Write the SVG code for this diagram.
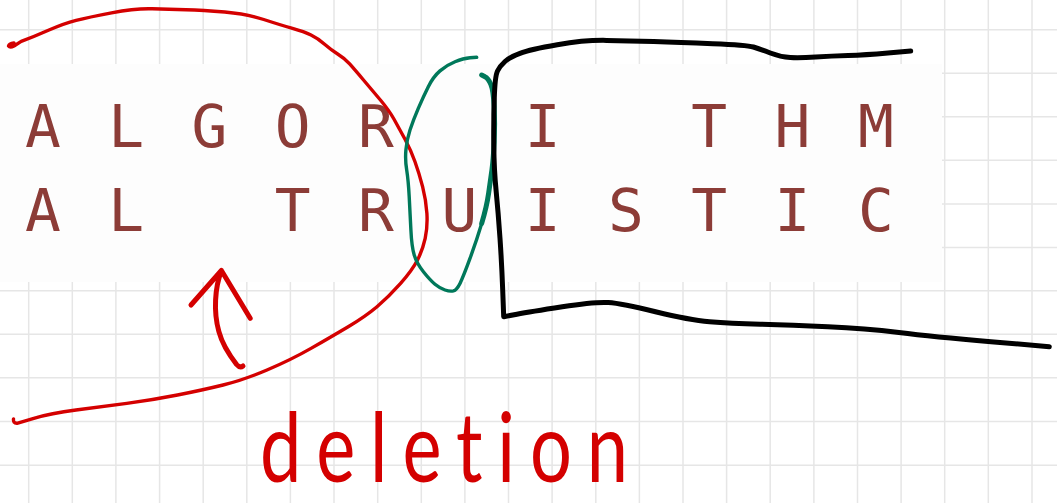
<svg xmlns="http://www.w3.org/2000/svg" width="1057" height="503" viewBox="0 0 1057 503">
<style>
.grid{stroke:#e6e6e6;stroke-width:1.5;fill:none}
.letters{font-family:"DejaVu Sans Mono","Liberation Mono",monospace;font-size:59.5px;fill:#8c3c37;text-anchor:middle}
.red{stroke:#d40000;fill:none;stroke-linecap:round;stroke-linejoin:round}
.green{stroke:#00785a;fill:none;stroke-linecap:round;stroke-linejoin:round}
.black{stroke:#000;fill:none;stroke-linecap:round;stroke-linejoin:round;stroke-width:5}
.hand{font-family:Lato,"DejaVu Sans",sans-serif;font-weight:400;font-size:74px;fill:#d40000;font-variant-ligatures:none;font-feature-settings:"liga" 0,"clig" 0}
</style>
<rect width="1057" height="503" fill="#ffffff"/>
<g id="grid" class="grid">
<path d="M28.7 0V503M72.3 0V503M115.9 0V503M159.6 0V503M203.2 0V503M246.8 0V503M290.4 0V503M334 0V503M377.7 0V503M421.3 0V503M464.9 0V503M508.5 0V503M552.1 0V503M595.8 0V503M639.4 0V503M683 0V503M726.6 0V503M770.2 0V503M813.9 0V503M857.5 0V503M901.1 0V503M944.7 0V503M988.3 0V503M1032 0V503"/>
<path d="M0 29.8H1057M0 73.3H1057M0 116.7H1057M0 160.2H1057M0 204H1057M0 247.4H1057M0 290.8H1057M0 334.3H1057M0 377.8H1057M0 421.5H1057M0 465.2H1057"/>
</g>
<g id="word-panel">
<rect x="0" y="64" width="942" height="218" fill="#fdfdfd"/>
<text id="row-algorithm" class="letters" x="42.8 126.1 209.4 292.7 376 542.6 709.2 792.5 875.8" y="146.7">ALGORITHM</text>
<text id="row-altruistic" class="letters" x="42.8 126.1 292.7 376 459.3 542.6 625.9 709.2 792.5 875.8" y="231">ALTRUISTIC</text>
</g>
<g id="connectors">
<path id="red-curve" class="red" stroke-width="3.4" d="M14 43 Q9 43.5 8.5 46 Q10 48 14 46 L21.2 41.4 Q33.8 36.7 49 30 Q64.2 23.3 76.1 20.3 Q87.9 17.3 111.6 12.8 Q135.2 8.3 152.1 8.8 Q169 9.3 185.9 9.7 Q202.8 10 224.8 12 Q246.8 14 263.7 19.5 Q280.6 25 292.5 28.4 Q304.3 31.7 311 35 Q317.8 38.3 324.6 44.2 Q331.3 50 338 54.2 Q344.8 58.3 349.9 64.2 Q355 70 363.5 80 Q371.9 90 380.4 100 Q388.8 110 393.9 119 Q398.9 128 404.9 139 Q410.8 150 415 161.7 Q419.2 173.3 422.6 186.7 Q426 200 426.9 213.4 Q427.7 226.7 425.2 238.4 Q422.6 250 417.5 260 Q412.4 270 400.6 283.4 Q388.8 296.7 377 306.7 Q365.1 316.7 348.2 326.7 Q331.3 336.7 311 348.4 Q290.7 360 267 370 Q243.4 380 223.1 385 Q202.8 390 177.5 395 Q152.1 400 126.8 403.4 Q101.4 406.7 76 410 Q50.7 413.3 33.8 418.3 L16.9 423.3 Q13 423 13.5 419"/>
<path id="red-arrow" class="red" stroke-width="5" d="M243 366 Q240 368.5 236.6 364.5 Q223 347 218.9 331.7 Q214.7 316.7 215.6 300 Q216.4 283.3 221.4 271 M191 305 L221.4 270.5 L250.2 318.3"/>
<path id="green-loop" class="green" stroke-width="3.4" d="M476.7 57.3 L470 57.8 Q463.3 58.3 455 61.7 Q446.7 65 440 70.9 Q433.3 76.7 428.3 86.7 Q423.3 96.7 418.3 108.4 Q413.3 120 410 130 Q406.7 140 405.9 150 Q405 160 406.7 170 Q408.3 180 409.2 196.7 Q410 213.3 410.9 230 Q411.7 246.7 414.2 255 Q416.7 263.3 423.4 271.7 Q430 280 435 284.2 Q440 288.3 445 290 Q450 291.7 453.4 290.9 Q456.7 290 460 283.4 Q463.3 276.7 470 258.4 Q476.7 240 481.7 223.4 Q486.7 206.7 488.6 193.4 Q490.5 180 491.9 170 Q493.3 160 494.2 141.7 Q495 123.3 494.2 106.7 Q493.3 90 490.8 84.2 Q488.3 78.3 485 76.7 L481.7 75"/>
<path class="green" stroke-width="5" d="M481.7 223.4 Q486.7 206.7 488.6 193.4 Q490.5 180 491.9 170 Q493.3 160 494.2 141.7 Q495 123.3 494.2 106.7 Q493.3 90 490.8 84.2 Q488.3 78.3 485 76.7 L481.7 75"/>
<path id="black-bracket" class="black" d="M910.7 51 L887.9 53 Q865 55 848.2 55.5 Q831.3 56 815.7 57 Q800 58 790.3 57.5 Q780.5 57 770.3 53 Q760 49 753.4 47 Q746.7 45 712.9 43.7 Q679 42.3 653.7 41.5 Q628.4 40.7 606.5 40.4 Q584.5 40 557.3 44.8 Q530 49.5 520 53.3 Q510 57 505 61.5 Q500 66 497.5 71 Q495 76 494.3 98 Q493.5 120 493.8 145 Q494 170 496.2 191.7 Q498.3 213.3 500 238.3 Q501.7 263.3 502.7 290 L503.7 316.7 L516.9 314.2 Q530 311.7 562.3 306.7 Q594.6 301.7 608.2 302.5 Q621.7 303.3 655.5 311.7 Q689.3 320 709.6 321.7 Q729.8 323.3 760.3 324.2 Q790.7 325 827.9 326.7 Q865 328.3 898.9 332.5 Q932.7 336.7 991 341.7 L1049.3 346.7"/>
</g>
<g id="label-deletion">
<text class="hand" transform="translate(260 482) scale(1 1.32)" x="0" y="0" textLength="368" lengthAdjust="spacing">deletion</text>
</g>
</svg>
